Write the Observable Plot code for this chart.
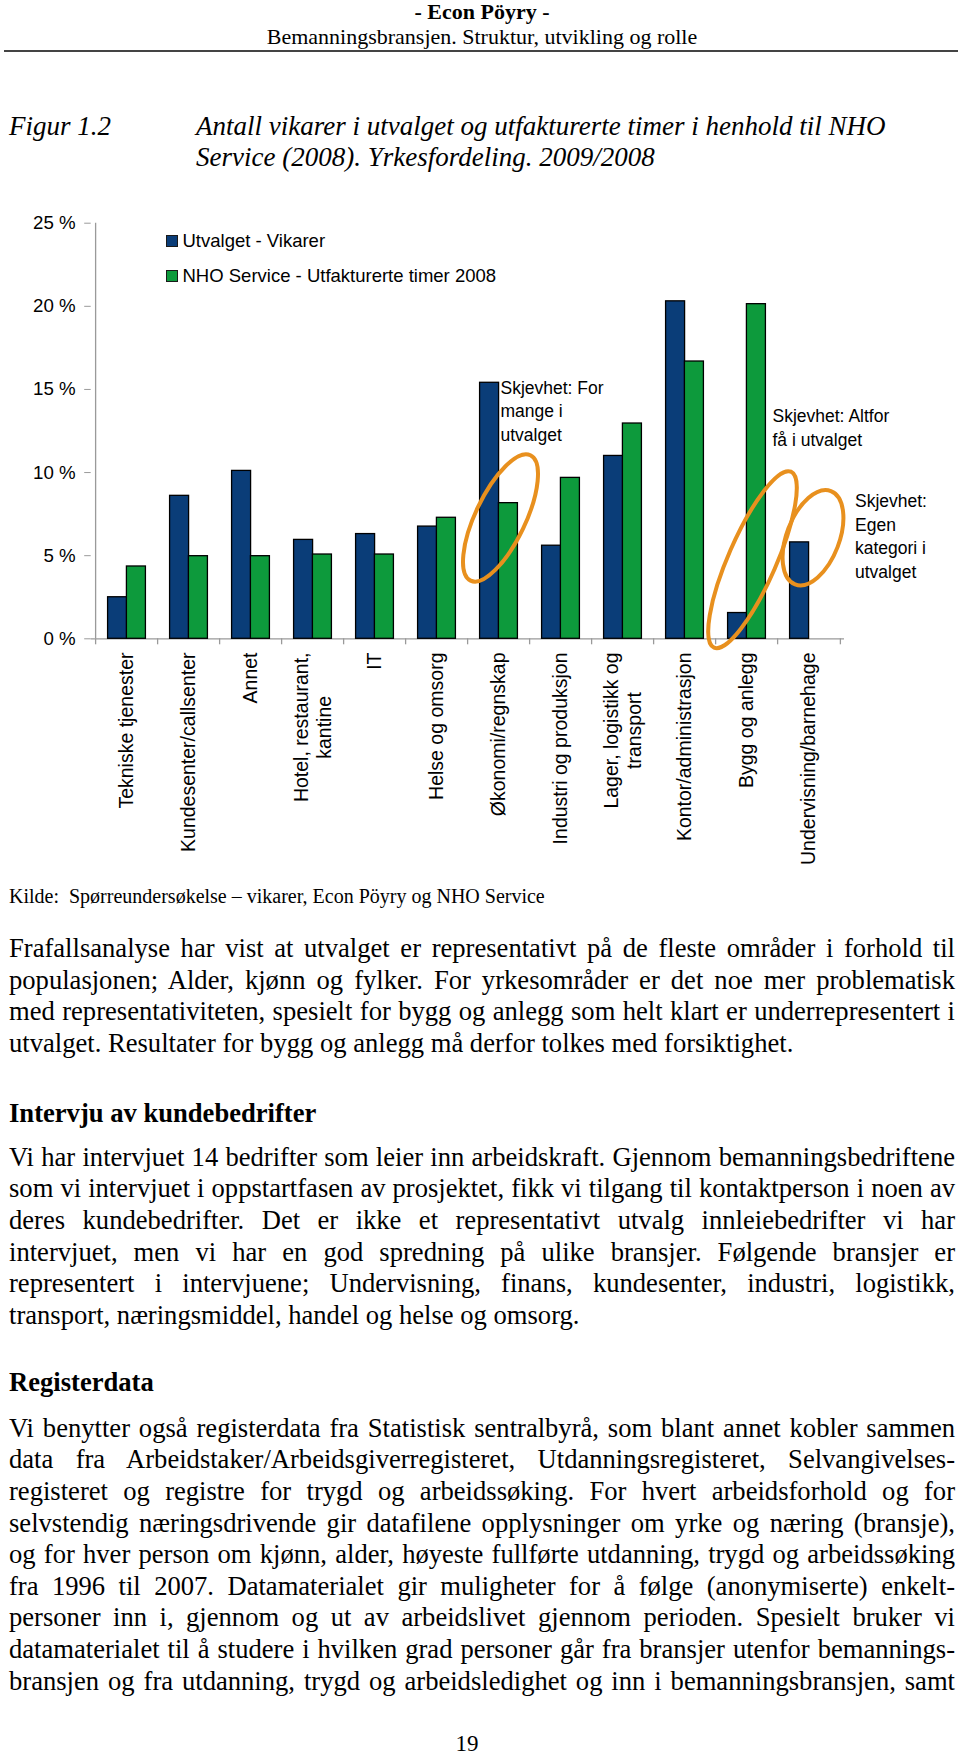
<!DOCTYPE html>
<html>
<head>
<meta charset="utf-8">
<script src="https://cdn.jsdelivr.net/npm/d3@7"></script>
<script src="https://cdn.jsdelivr.net/npm/@observablehq/plot@0.6"></script>
<style>
  html, body { margin: 0; padding: 0; background: #fff; }
  #page { position: relative; width: 960px; height: 1757px; overflow: hidden; background: #fff; color: #000; }
  .abs { position: absolute; white-space: nowrap; }
  #chart { position: absolute; left: 0; top: 200px; }
  .sq { position: absolute; width: 10px; height: 10px; border: 1px solid #1a1a1a; }
</style>
</head>
<body>
<div id="page"></div>
<script>
// ---------- data ----------
const categories = [
  "Tekniske tjenester", "Kundesenter/callsenter", "Annet", "Hotel, restaurant,\nkantine",
  "IT", "Helse og omsorg", "Økonomi/regnskap", "Industri og produksjon",
  "Lager, logistikk og\ntransport", "Kontor/administrasjon", "Bygg og anlegg", "Undervisning/barnehage"
];
const utvalgetVikarer = [2.5, 8.6, 10.1, 5.95, 6.3, 6.75, 15.4, 5.6, 11.0, 20.3, 1.55, 5.8];
const nhoTimer2008   = [4.35, 4.97, 4.97, 5.07, 5.07, 7.28, 8.16, 9.68, 12.95, 16.68, 20.13, null];
const seriesNames = ["Utvalget - Vikarer", "NHO Service - Utfakturerte timer 2008"];
const yTicks = [0, 5, 10, 15, 20, 25];

// annotation ellipses (anchored to categories / values)
const ellipseCats  = ["Økonomi/regnskap", "Bygg og anlegg", "Undervisning/barnehage"];
const ellipseVals  = [7.24, 4.73, 6.05];
const annotations = [
  {lines: ["Skjevhet: For", "mange i", "utvalget"]},
  {lines: ["Skjevhet: Altfor", "få i utvalget"]},
  {lines: ["Skjevhet:", "Egen", "kategori i", "utvalget"]}
];

const headerTitle = "- Econ Pöyry -";
const headerSub = "Bemanningsbransjen. Struktur, utvikling og rolle";
const figLabel = "Figur 1.2";
const figTitle = ["Antall vikarer i utvalget og utfakturerte timer i henhold til NHO", "Service (2008). Yrkesfordeling. 2009/2008"];
const kildeLabel = "Kilde:";
const kildeText = "Spørreundersøkelse – vikarer, Econ Pöyry og NHO Service";
const para1 = [
  "Frafallsanalyse har vist at utvalget er representativt på de fleste områder i forhold til",
  "populasjonen; Alder, kjønn og fylker. For yrkesområder er det noe mer problematisk",
  "med representativiteten, spesielt for bygg og anlegg som helt klart er underrepresentert i",
  "utvalget. Resultater for bygg og anlegg må derfor tolkes med forsiktighet."
];
const heading1 = "Intervju av kundebedrifter";
const para2 = [
  "Vi har intervjuet 14 bedrifter som leier inn arbeidskraft. Gjennom bemanningsbedriftene",
  "som vi intervjuet i oppstartfasen av prosjektet, fikk vi tilgang til kontaktperson i noen av",
  "deres kundebedrifter. Det er ikke et representativt utvalg innleiebedrifter vi har",
  "intervjuet, men vi har en god spredning på ulike bransjer. Følgende bransjer er",
  "representert i intervjuene; Undervisning, finans, kundesenter, industri, logistikk,",
  "transport, næringsmiddel, handel og helse og omsorg."
];
const heading2 = "Registerdata";
const para3 = [
  "Vi benytter også registerdata fra Statistisk sentralbyrå, som blant annet kobler sammen",
  "data fra Arbeidstaker/Arbeidsgiverregisteret, Utdanningsregisteret, Selvangivelses-",
  "registeret og registre for trygd og arbeidssøking. For hvert arbeidsforhold og for",
  "selvstendig næringsdrivende gir datafilene opplysninger om yrke og næring (bransje),",
  "og for hver person om kjønn, alder, høyeste fullførte utdanning, trygd og arbeidssøking",
  "fra 1996 til 2007. Datamaterialet gir muligheter for å følge (anonymiserte) enkelt-",
  "personer inn i, gjennom og ut av arbeidslivet gjennom perioden. Spesielt bruker vi",
  "datamaterialet til å studere i hvilken grad personer går fra bransjer utenfor bemannings-",
  "bransjen og fra utdanning, trygd og arbeidsledighet og inn i bemanningsbransjen, samt"
];
const pageNumber = "19";

// ---------- page text ----------
const page = document.getElementById("page");
const SERIF = '"Liberation Serif", "Times New Roman", serif';
const SANS = '"Liberation Sans", Arial, sans-serif';

function addText(text, {left, cy, size, family = SERIF, weight = "normal", style = "normal", lh, justifyTo = null, center = false}) {
  const d = document.createElement("div");
  d.className = "abs";
  d.textContent = text;
  d.style.fontFamily = family;
  d.style.fontSize = size + "px";
  d.style.fontWeight = weight;
  d.style.fontStyle = style;
  d.style.lineHeight = lh + "px";
  d.style.top = (cy - lh / 2) + "px";
  page.appendChild(d);
  const w = d.getBoundingClientRect().width;
  if (center) d.style.left = (left - w / 2) + "px"; else d.style.left = left + "px";
  if (justifyTo) {
    const n = (text.match(/ /g) || []).length;
    if (n > 0) d.style.wordSpacing = ((justifyTo - w) / n) + "px";
  }
  return d;
}

addText(headerTitle, {left: 482, cy: 12, size: 22, weight: "bold", lh: 24, center: true});
addText(headerSub, {left: 482, cy: 36.5, size: 22, lh: 24, center: true});
const rule = document.createElement("div");
rule.style.cssText = "position:absolute;left:4px;width:954px;top:49.5px;height:2px;background:#444;";
page.appendChild(rule);

addText(figLabel, {left: 9, cy: 126, size: 27, style: "italic", lh: 31});
addText(figTitle[0], {left: 196, cy: 126, size: 27, style: "italic", lh: 31});
addText(figTitle[1], {left: 196, cy: 157.5, size: 27, style: "italic", lh: 31});

addText(kildeLabel, {left: 9, cy: 896, size: 20, lh: 24});
addText(kildeText, {left: 69, cy: 896, size: 20, lh: 24});

const LH = 31.6, BODY = 26.6, TEXTW = 946;
function addPara(lines, startCy) {
  lines.forEach((t, i) => {
    const last = i === lines.length - 1;
    addText(t, {left: 9, cy: startCy + i * LH, size: BODY, lh: LH, justifyTo: last ? null : TEXTW});
  });
}
addPara(para1, 949);
addText(heading1, {left: 9, cy: 1113.5, size: BODY, weight: "bold", lh: LH});
addPara(para2, 1157.5);
addText(heading2, {left: 9, cy: 1382.5, size: BODY, weight: "bold", lh: LH});
// last line of para3 continues on the next page -> justified too
para3.forEach((t, i) => addText(t, {left: 9, cy: 1428.5 + i * LH, size: BODY, lh: LH, justifyTo: TEXTW}));
addText(pageNumber, {left: 467, cy: 1744, size: 23, lh: 26, center: true});

// ---------- chart ----------
const W = 960, H = 660;
const mL = 90.7, mR = 116, mT = 22.7, mB = 221.7;
const plotH = H - mT - mB;
const step = (W - mL - mR) / categories.length;
const BLUE = "#0a3d78", GREEN = "#0d9a3c", ORANGE = "#e8901e", AXIS = "#9a9a9a";

const rowsBlue = categories.map((c, i) => ({c, v: utvalgetVikarer[i]})).filter(d => d.v != null);
const rowsGreen = categories.map((c, i) => ({c, v: nhoTimer2008[i]})).filter(d => d.v != null);

// category label rows
const labelFont = 19.5;
const canvas = document.createElement("canvas");
const ctx = canvas.getContext("2d");
ctx.font = `${labelFont}px "Liberation Sans", Arial, sans-serif`;
const labelMarks = [];
const LABEL_GAP = 13.7, LABEL_LINE = 23.4;
categories.forEach(c => {
  const parts = c.split("\n");
  const w0 = ctx.measureText(parts[0]).width;
  parts.forEach((p, j) => {
    const wj = ctx.measureText(p).width;
    labelMarks.push(Plot.text([c], {
      x: d => d, y: () => 0, text: () => p, rotate: -90, textAnchor: "end",
      fontSize: labelFont, fill: "#000",
      dx: (j - (parts.length - 1) / 2) * LABEL_LINE,
      dy: LABEL_GAP + (w0 - wj) / 2
    }));
  });
});

function ellipseMark(index, scales) {
  const g = d3.create("svg:g").attr("fill", "none").attr("stroke", ORANGE).attr("stroke-width", 4);
  const bw = typeof scales.x.bandwidth === "function" ? scales.x.bandwidth() : 0;
  const shape = [
    {dx: 2, rx: 69.5, ry: 25, rot: -64.5},
    {dx: 6, rx: 96, ry: 24, rot: -66.4},
    {dx: 4.5, rx: 50, ry: 26.3, rot: -69}
  ];
  ellipseCats.forEach((c, i) => {
    const cx = scales.x(c) + bw / 2 + shape[i].dx;
    const cy = scales.y(ellipseVals[i]);
    g.append("ellipse")
      .attr("transform", `translate(${cx},${cy}) rotate(${shape[i].rot})`)
      .attr("rx", shape[i].rx).attr("ry", shape[i].ry);
  });
  return g.node();
}

const chart = Plot.plot({
  width: W, height: H,
  marginLeft: mL, marginRight: mR, marginTop: mT, marginBottom: mB,
  style: {fontFamily: SANS, fontSize: "18.7px", color: "#000", background: "transparent", overflow: "visible"},
  x: {domain: categories, paddingInner: 0.7, paddingOuter: 0.35, axis: null},
  y: {domain: [0, 25], axis: null, label: null},
  marks: [
    Plot.axisY({ticks: yTicks, tickSize: 6.5, tickFormat: () => "", color: AXIS, label: null}),
    Plot.axisY({ticks: yTicks, tickSize: 0, tickPadding: 15.5, tickFormat: d => d + " %", color: "#000", fontSize: 18.7, label: null}),
    Plot.ruleX([categories[0]], {x: d => d, dx: -step / 2, stroke: AXIS, strokeWidth: 1.3}),
    Plot.tickX(categories, {x: d => d, dx: -step / 2, insetTop: plotH, insetBottom: -6, stroke: AXIS, strokeWidth: 1.3}),
    Plot.tickX([categories[categories.length - 1]], {x: d => d, dx: step / 2, insetTop: plotH, insetBottom: -6, stroke: AXIS, strokeWidth: 1.3}),
    Plot.ruleY([0], {stroke: AXIS, strokeWidth: 1.3}),
    Plot.barY(rowsBlue, {x: "c", y: "v", fill: BLUE, stroke: "#000", strokeWidth: 1.3, dx: -step * 0.15}),
    Plot.barY(rowsGreen, {x: "c", y: "v", fill: GREEN, stroke: "#000", strokeWidth: 1.3, dx: step * 0.15}),
    ...labelMarks,
    ellipseMark
  ]
});
const holder = document.createElement("div");
holder.id = "chart";
holder.appendChild(chart);
page.appendChild(holder);

// legend
const legendItems = [{name: seriesNames[0], color: BLUE, cy: 241}, {name: seriesNames[1], color: GREEN, cy: 275.5}];
legendItems.forEach(it => {
  const s = document.createElement("div");
  s.className = "sq";
  s.style.left = "165.5px"; s.style.top = (it.cy - 6) + "px"; s.style.background = it.color;
  page.appendChild(s);
  addText(it.name, {left: 182.5, cy: it.cy, size: 18.5, family: SANS, lh: 22});
});

// annotation texts
const annPos = [{left: 500.5, cy: 387.5}, {left: 772.5, cy: 416}, {left: 855, cy: 501}];
annotations.forEach((a, k) => {
  a.lines.forEach((t, j) => addText(t, {left: annPos[k].left, cy: annPos[k].cy + j * 23.6, size: 17.5, family: SANS, lh: 22}));
});
</script>
</body>
</html>
